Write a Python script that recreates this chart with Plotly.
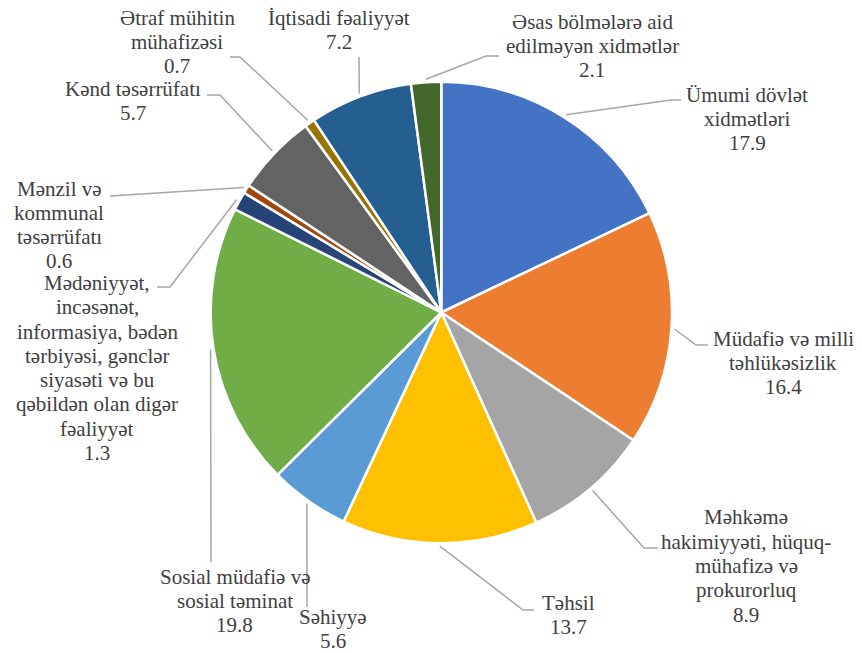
import math
import plotly.graph_objects as go

W, H = 862, 653

categories = [
    "Ümumi dövlət<br>xidmətləri",
    "Müdafiə və milli<br>təhlükəsizlik",
    "Məhkəmə<br>hakimiyyəti, hüquq-<br>mühafizə və<br>prokurorluq",
    "Təhsil",
    "Səhiyyə",
    "Sosial müdafiə və<br>sosial təminat",
    "Mədəniyyət,<br>incəsənət,<br>informasiya, bədən<br>tərbiyəsi, gənclər<br>siyasəti və bu<br>qəbildən olan digər<br>fəaliyyət",
    "Mənzil və<br>kommunal<br>təsərrüfatı",
    "Kənd təsərrüfatı",
    "Ətraf mühitin<br>mühafizəsi",
    "İqtisadi fəaliyyət",
    "Əsas bölmələrə aid<br>edilməyən xidmətlər",
]
values = [17.9, 16.4, 8.9, 13.7, 5.6, 19.8, 1.3, 0.6, 5.7, 0.7, 7.2, 2.1]
colors = ["#4472C4", "#ED7D31", "#A5A5A5", "#FFC000", "#5B9BD5", "#70AD47",
          "#264478", "#9E480E", "#636363", "#997300", "#255E91", "#43682B"]

# layout (px from top-left): label centres and leader-line elbow / end points
label_pos = [(747, 119), (783, 363), (746, 566), (568, 615), (333, 629), (235, 601),
             (97, 368), (59, 225), (133, 101), (177, 42), (339, 30), (592, 46)]
leader_pts = [
    [(671, 100), (681, 100)],
    [(696, 345), (708, 345)],
    [(644, 548), (658, 548)],
    [(523, 610), (534, 610)],
    [(307, 607)],
    [(211, 562)],
    [(170, 287), (157, 287)],
    [(110, 196)],
    [(220, 95), (207, 95)],
    [(240, 57), (230, 57)],
    [(359, 57)],
    [(486, 56), (499, 56)],
]

cx, cy, R = 441.3, 312.5, 230.7
LINE_H = 24.3
FONT = dict(family="Times New Roman, Liberation Serif, Tinos, DejaVu Serif, serif",
            size=21, color="#404040")


def px(x):
    return x / W


def py(y):
    return 1 - y / H


fig = go.Figure(go.Pie(
    labels=[c.replace("<br>", " ") for c in categories],
    values=values,
    sort=False,
    direction="clockwise",
    rotation=0,
    textinfo="none",
    hoverinfo="label+value",
    marker=dict(colors=colors, line=dict(color="white", width=2.5)),
    domain=dict(x=[px(cx - R), px(cx + R)], y=[py(cy + R), py(cy - R)]),
    showlegend=False,
))

total = sum(values)
cum = 0
shapes = []
annotations = []
for cat, v, lp, pts in zip(categories, values, label_pos, leader_pts):
    mid = (cum + v / 2) / total * 2 * math.pi
    cum += v
    rs = R + 3
    sx = cx + rs * math.sin(mid)
    sy = cy - rs * math.cos(mid)
    path_pts = [(sx, sy)] + pts
    d = "M " + " L ".join(f"{px(x):.5f},{py(y):.5f}" for x, y in path_pts)
    shapes.append(dict(type="path", path=d, xref="paper", yref="paper",
                       line=dict(color="#A6A6A6", width=1.5)))
    lines = cat.split("<br>") + [str(v)]
    n = len(lines)
    for i, t in enumerate(lines):
        yy = lp[1] + (i - (n - 1) / 2) * LINE_H
        annotations.append(dict(
            x=px(lp[0]), y=py(yy), xref="paper", yref="paper",
            text=t, showarrow=False, align="center",
            xanchor="center", yanchor="middle",
            font=FONT,
        ))

fig.update_layout(
    width=W, height=H,
    margin=dict(l=0, r=0, t=0, b=0),
    paper_bgcolor="white", plot_bgcolor="white",
    font=FONT,
    shapes=shapes, annotations=annotations,
)

fig.write_html(
    "out.html",
    config={"displayModeBar": False},
    post_script="document.body.style.margin='0';document.body.style.overflow='hidden';",
)
